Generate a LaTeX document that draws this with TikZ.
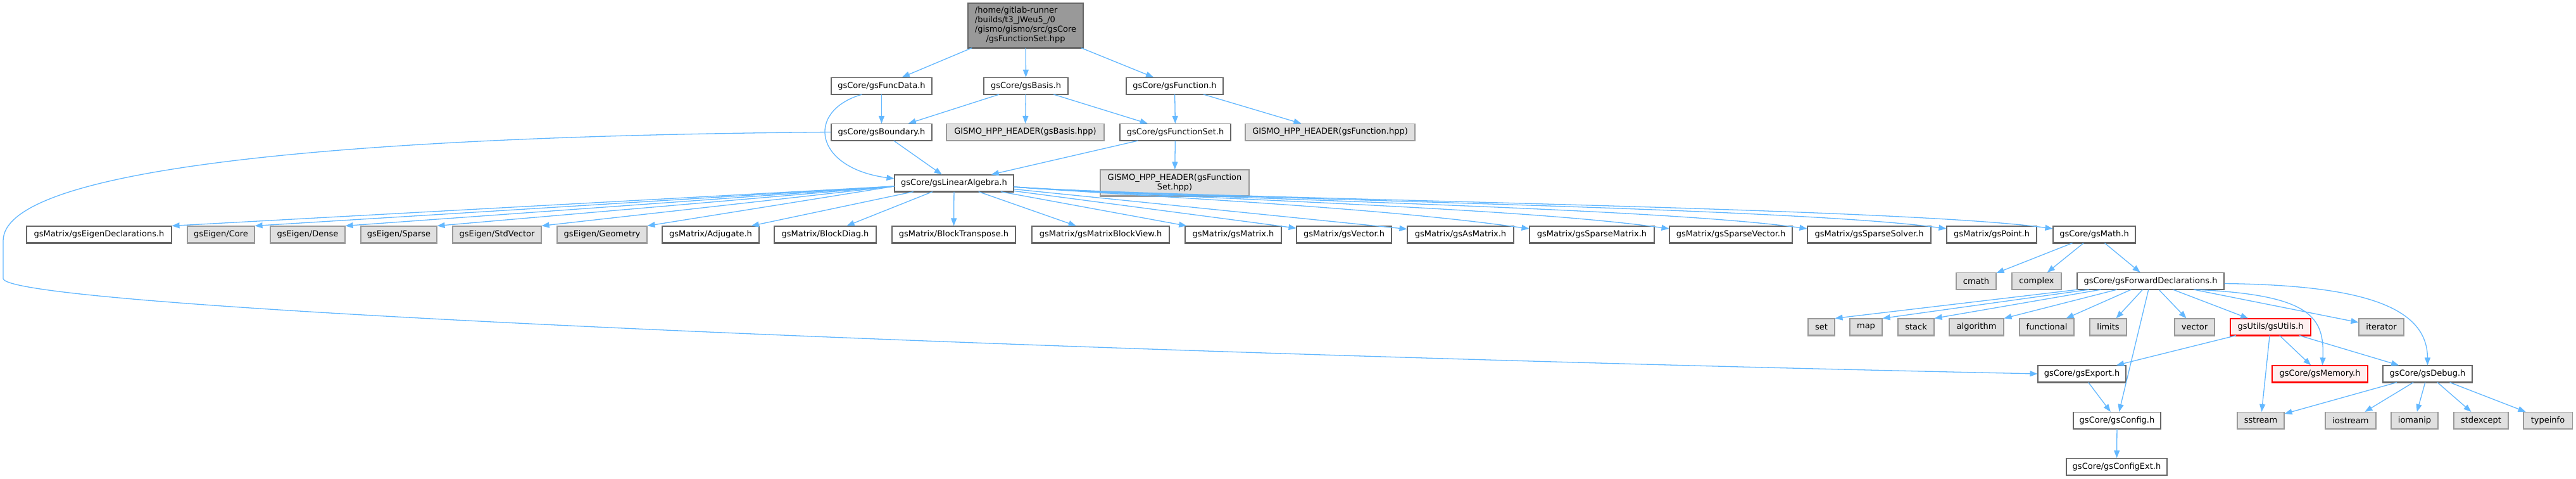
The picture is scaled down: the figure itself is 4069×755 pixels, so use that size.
\documentclass[tikz,border=0pt]{standalone}
\usepackage{fontspec}
\setmainfont{DejaVu Sans}
\usetikzlibrary{arrows.meta}
\definecolor{edgec}{HTML}{63B8FF}
\definecolor{bordc}{HTML}{666666}
\definecolor{gbord}{HTML}{999999}
\definecolor{gfill}{HTML}{E0E0E0}
\definecolor{rootfill}{HTML}{999999}
\definecolor{redfill}{HTML}{FFF0F0}
\definecolor{redbord}{HTML}{FF0000}
\begin{document}
\begin{tikzpicture}[x=1pt,y=-1pt,
  every node/.style={font=\fontsize{13}{15}\selectfont, inner sep=0pt, minimum height=26pt},
  wbox/.style={draw=bordc, fill=white, line width=1.1pt},
  gbox/.style={draw=gbord, fill=gfill, line width=1.1pt},
  rbox/.style={draw=redbord, fill=redfill, line width=1.1pt},
  rootbox/.style={draw=bordc, fill=rootfill, line width=1.1pt},
  dep/.style={draw=edgec, line width=1.3pt, -{Triangle[length=12pt,width=9pt]}},
  shw/.style={draw=bordc, line width=2pt},
  shg/.style={draw=gbord, line width=2pt},
  shr/.style={draw=redbord, line width=2pt},
]
\fill[white] (0,0) rectangle (4069,755);
\useasboundingbox (0,0) rectangle (4069,755);

% row 1-3
\node[rootbox, minimum width=182pt, minimum height=70pt] (root) at (1620,40)
  {\begin{tabular}{@{}l@{}}/home/gitlab-runner\\/builds/t3\_JWeu5\_/0\\/gismo/gismo/src/gsCore\\\multicolumn{1}{@{}c@{}}{/gsFunctionSet.hpp}\end{tabular}};
\node[wbox, minimum width=159pt] (funcdata) at (1392.5,135.5) {gsCore/gsFuncData.h};
\node[wbox, minimum width=133pt] (basis) at (1620.5,135.5) {gsCore/gsBasis.h};
\node[wbox, minimum width=153pt] (function) at (1855.5,135.5) {gsCore/gsFunction.h};
\node[wbox, minimum width=159pt] (boundary) at (1392.5,208.5) {gsCore/gsBoundary.h};
\node[gbox, minimum width=249pt] (gbasis) at (1619.5,208.5) {GISMO\_HPP\_HEADER(gsBasis.hpp)};
\node[wbox, minimum width=175pt] (funcset) at (1856.5,208.5) {gsCore/gsFunctionSet.h};
\node[gbox, minimum width=268pt] (gfunction) at (2101,208.5) {GISMO\_HPP\_HEADER(gsFunction.hpp)};
\node[wbox, minimum width=188pt] (linalg) at (1507,289) {gsCore/gsLinearAlgebra.h};
\node[gbox, minimum width=235pt, minimum height=41pt] (gfuncset) at (1855.5,288.5)
  {\begin{tabular}{@{}c@{}}GISMO\_HPP\_HEADER(gsFunction\\Set.hpp)\end{tabular}};

% row 4
\node[wbox, minimum width=229pt] (eigdecl) at (156.5,370) {gsMatrix/gsEigenDeclarations.h};
\node[gbox, minimum width=106pt] (core) at (349,370) {gsEigen/Core};
\node[gbox, minimum width=118pt] (dense) at (486,370) {gsEigen/Dense};
\node[gbox, minimum width=120pt] (sparse) at (630,370) {gsEigen/Sparse};
\node[gbox, minimum width=140pt] (stdvec) at (785,370) {gsEigen/StdVector};
\node[gbox, minimum width=142pt] (geom) at (951,370) {gsEigen/Geometry};
\node[wbox, minimum width=153pt] (adj) at (1122.5,370) {gsMatrix/Adjugate.h};
\node[wbox, minimum width=161pt] (bdiag) at (1303.5,370) {gsMatrix/BlockDiag.h};
\node[wbox, minimum width=195pt] (btrans) at (1506.5,370) {gsMatrix/BlockTranspose.h};
\node[wbox, minimum width=217pt] (bview) at (1738.5,370) {gsMatrix/gsMatrixBlockView.h};
\node[wbox, minimum width=152pt] (mat) at (1948,370) {gsMatrix/gsMatrix.h};
\node[wbox, minimum width=150pt] (vec) at (2123,370) {gsMatrix/gsVector.h};
\node[wbox, minimum width=168pt] (asmat) at (2307,370) {gsMatrix/gsAsMatrix.h};
\node[wbox, minimum width=197pt] (spmat) at (2514.5,370) {gsMatrix/gsSparseMatrix.h};
\node[wbox, minimum width=194pt] (spvec) at (2734,370) {gsMatrix/gsSparseVector.h};
\node[wbox, minimum width=195pt] (spsol) at (2952.5,370) {gsMatrix/gsSparseSolver.h};
\node[wbox, minimum width=142pt] (point) at (3146,370) {gsMatrix/gsPoint.h};
\node[wbox, minimum width=130pt] (math) at (3308,370) {gsCore/gsMath.h};

% row 5
\node[gbox, minimum width=63pt] (cmath) at (3121.5,443.5) {cmath};
\node[gbox, minimum width=78pt] (complex) at (3217,443.5) {complex};
\node[wbox, minimum width=232pt] (fwd) at (3397,443.5) {gsCore/gsForwardDeclarations.h};

% row 6
\node[gbox, minimum width=42pt] (nset) at (2877,516) {set};
\node[gbox, minimum width=51pt] (nmap) at (2947.5,516) {map};
\node[gbox, minimum width=57pt] (nstack) at (3026.5,516) {stack};
\node[gbox, minimum width=86pt] (nalgo) at (3122,516) {algorithm};
\node[gbox, minimum width=86pt] (nfunc) at (3233,516) {functional};
\node[gbox, minimum width=58pt] (nlimits) at (3330,516) {limits};
\node[gbox, minimum width=63pt] (nvector) at (3466.5,516) {vector};
\node[rbox, minimum width=127pt] (utils) at (3586.5,516) {gsUtils/gsUtils.h};
\node[gbox, minimum width=71pt] (niter) at (3761.5,516) {iterator};

% row 7
\node[wbox, minimum width=139pt] (export) at (3288.5,590) {gsCore/gsExport.h};
\node[rbox, minimum width=151pt] (memory) at (3664.5,590) {gsCore/gsMemory.h};
\node[wbox, minimum width=141pt] (debug) at (3834.5,590) {gsCore/gsDebug.h};

% row 8-9
\node[wbox, minimum width=138pt] (config) at (3344,663.5) {gsCore/gsConfig.h};
\node[gbox, minimum width=74pt] (sstream) at (3571,663.5) {sstream};
\node[gbox, minimum width=80pt] (iostream) at (3713,663.5) {iostream};
\node[gbox, minimum width=74pt] (iomanip) at (3814,663.5) {iomanip};
\node[gbox, minimum width=86pt] (stdexcept) at (3919,663.5) {stdexcept};
\node[gbox, minimum width=77pt] (typeinfo) at (4024.5,663.5) {typeinfo};
\node[wbox, minimum width=159pt] (configext) at (3343.5,736.5) {gsCore/gsConfigExt.h};

% bottom shadows
\foreach \n in {root,funcdata,basis,function,boundary,funcset,linalg,eigdecl,adj,bdiag,btrans,bview,mat,vec,asmat,spmat,spvec,spsol,point,math,fwd,export,debug,config,configext}
  \draw[shw] (\n.south west) -- (\n.south east);
\foreach \n in {gbasis,gfunction,gfuncset,core,dense,sparse,stdvec,geom,cmath,complex,nset,nmap,nstack,nalgo,nfunc,nlimits,nvector,niter,sstream,iostream,iomanip,stdexcept,typeinfo}
  \draw[shg] (\n.south west) -- (\n.south east);
\foreach \n in {utils,memory}
  \draw[shr] (\n.south west) -- (\n.south east);

% edges
\draw[dep] (root) -- (funcdata);
\draw[dep] (root) -- (basis);
\draw[dep] (root) -- (function);
\draw[dep] (funcdata) -- (boundary);
\draw[dep] ([xshift=49pt]funcdata.south west) .. controls (1272,175) and (1285,265) .. ([yshift=7pt]linalg.west);
\draw[dep] (basis) -- (boundary);
\draw[dep] (basis) -- (gbasis);
\draw[dep] (basis) -- (funcset);
\draw[dep] (function) -- (funcset);
\draw[dep] (function) -- (gfunction);
\draw[dep] (funcset) -- (linalg);
\draw[dep] (funcset) -- (gfuncset);
\draw[dep] (boundary) -- (linalg);
\draw[dep] (boundary.west) .. controls (500,215) and (5,270) .. (5,380) -- (5,440) .. controls (20,490) and (1800,560) .. (export.west);

\foreach \t in {eigdecl,core,dense,sparse,stdvec,geom}
  \draw[dep] ([yshift=-5pt]linalg.west) -- (\t.north east);
\foreach \t in {adj,bdiag,btrans,bview,mat,vec,asmat}
  \draw[dep] (linalg) -- (\t);
\foreach \t in {spmat,spvec,spsol,point,math}
  \draw[dep] ([yshift=-6pt]linalg.east) .. controls +(250,18) and +(-250,-35) .. ([yshift=9pt]\t.west);

\draw[dep] (math) -- (cmath);
\draw[dep] (math) -- (complex);
\draw[dep] (math) -- (fwd);

\foreach \t in {nset,nmap,nstack,nalgo}
  \draw[dep] (fwd) -- (\t.north east);
\foreach \t in {nfunc,nlimits,nvector,utils,niter}
  \draw[dep] (fwd) -- (\t);
\draw[dep] (fwd) -- (config);
\draw[dep] ([xshift=-47pt]fwd.south east) .. controls (3650,465) and (3672,500) .. ([xshift=4pt]memory.north);
\draw[dep] ([yshift=-4pt]fwd.east) .. controls (3720,450) and (3834,480) .. (debug.north);

\draw[dep] (utils) -- (export);
\draw[dep] (utils) -- (memory);
\draw[dep] (utils) -- (debug);
\draw[dep] (utils) -- (sstream);

\draw[dep] (export) -- (config);
\draw[dep] (config) -- (configext);

\foreach \t in {sstream,iostream,iomanip,stdexcept,typeinfo}
  \draw[dep] (debug) -- (\t);
\end{tikzpicture}
\end{document}
